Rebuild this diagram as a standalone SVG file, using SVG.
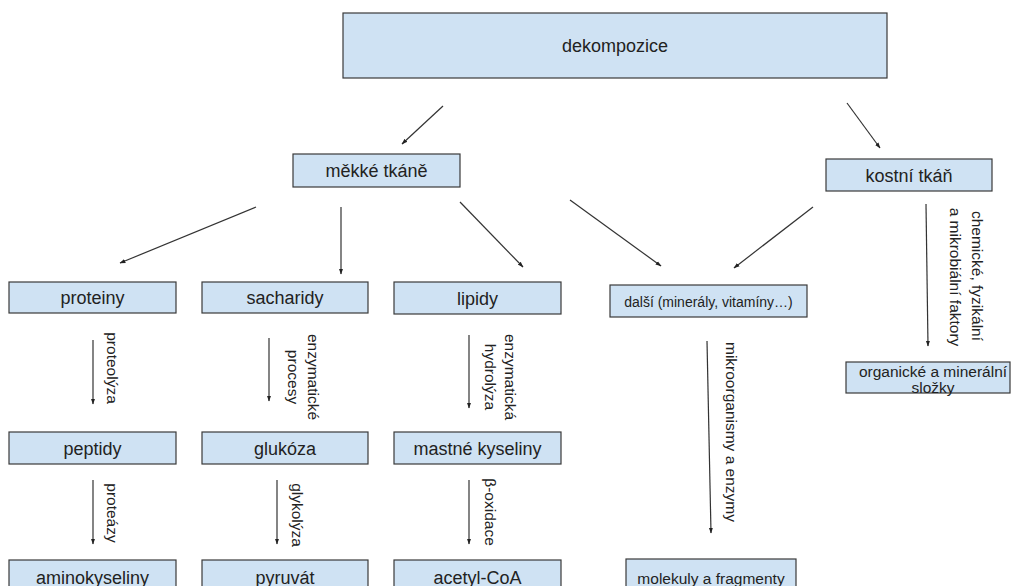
<svg xmlns="http://www.w3.org/2000/svg" width="1012" height="586" viewBox="0 0 1012 586">
<defs>
<style>
.box{fill:#cfe2f3;stroke:#3a3a3a;stroke-width:1.2}
.t{font-family:"Liberation Sans",Arial,sans-serif;font-size:18px;fill:#222;text-anchor:middle;dominant-baseline:central}
.lbl{font-family:"Liberation Sans",Arial,sans-serif;font-size:15.5px;fill:#222;text-anchor:middle;dominant-baseline:central}
.c{stroke:#333;stroke-width:1.2;fill:none;marker-end:url(#ah)}
</style>
<marker id="ah" viewBox="0 0 10 10" refX="9" refY="5" markerWidth="6" markerHeight="6" orient="auto" markerUnits="userSpaceOnUse">
<path d="M0,1.5 L10,5 L0,8.5 z" fill="#222"/>
</marker>
</defs>
<rect width="1012" height="586" fill="#fff"/>
<g id="connectors">
<line class="c" x1="443" y1="106" x2="402" y2="144"/>
<line class="c" x1="847" y1="103" x2="880" y2="148"/>
<line class="c" x1="256" y1="207" x2="120" y2="263"/>
<line class="c" x1="341" y1="207" x2="341" y2="274"/>
<line class="c" x1="460" y1="202" x2="523" y2="267"/>
<line class="c" x1="570" y1="200" x2="661" y2="266"/>
<line class="c" x1="813" y1="207" x2="734" y2="268"/>
<line class="c" x1="93" y1="340" x2="93" y2="404"/>
<line class="c" x1="269" y1="338" x2="269" y2="401"/>
<line class="c" x1="469" y1="335" x2="469" y2="408"/>
<line class="c" x1="93" y1="480" x2="93" y2="544"/>
<line class="c" x1="277" y1="480" x2="277" y2="544"/>
<line class="c" x1="469" y1="480" x2="469" y2="544"/>
<line class="c" x1="707" y1="341" x2="711" y2="533"/>
<line class="c" x1="926" y1="204" x2="928" y2="346"/>
<text class="lbl" transform="translate(112,368) rotate(90)">proteolýza</text>
<text class="lbl" transform="translate(313,377) rotate(90)">enzymatické</text>
<text class="lbl" transform="translate(293,377) rotate(90)">procesy</text>
<text class="lbl" transform="translate(510,377) rotate(90)">enzymatická</text>
<text class="lbl" transform="translate(490,377) rotate(90)">hydrolýza</text>
<text class="lbl" transform="translate(112,513) rotate(90)">proteázy</text>
<text class="lbl" transform="translate(297,515) rotate(90)">glykolýza</text>
<text class="lbl" transform="translate(490,512) rotate(90)">β-oxidace</text>
<text class="lbl" transform="translate(731,432) rotate(90)">mikroorganismy a enzymy</text>
<text class="lbl" transform="translate(977,276) rotate(90)">chemické, fyzikální</text>
<text class="lbl" transform="translate(955,277) rotate(90)">a mikrobiální faktory</text>
</g>
<g id="dekompozice"><rect class="box" x="343" y="13" width="544" height="65"/><text class="t" x="615" y="46">dekompozice</text></g>
<g id="mekke"><rect class="box" x="293" y="154" width="167" height="33"/><text class="t" x="376.5" y="171">měkké tkáně</text></g>
<g id="kostni"><rect class="box" x="826" y="159" width="166" height="32"/><text class="t" x="909" y="175.5">kostní tkáň</text></g>
<g id="proteiny"><rect class="box" x="9" y="282" width="167" height="31"/><text class="t" x="92.5" y="298">proteiny</text></g>
<g id="sacharidy"><rect class="box" x="202" y="282" width="166" height="31"/><text class="t" x="285" y="298">sacharidy</text></g>
<g id="lipidy"><rect class="box" x="394" y="282" width="167" height="32"/><text class="t" x="477.5" y="298.5">lipidy</text></g>
<g id="dalsi"><rect class="box" x="610" y="285" width="197" height="32"/><text class="t" x="708.5" y="301.5" style="font-size:14px">další (minerály, vitamíny…)</text></g>
<g id="organicke"><rect class="box" x="846" y="362" width="164" height="31"/><text class="t" x="933" y="371" style="font-size:15.5px">organické a minerální</text><text class="t" x="933" y="387.5" style="font-size:15.5px">složky</text></g>
<g id="peptidy"><rect class="box" x="9" y="432" width="167" height="32"/><text class="t" x="92.5" y="449">peptidy</text></g>
<g id="glukoza"><rect class="box" x="202" y="432" width="166" height="32"/><text class="t" x="285" y="449">glukóza</text></g>
<g id="mastne"><rect class="box" x="394" y="432" width="167" height="32"/><text class="t" x="477.5" y="449">mastné kyseliny</text></g>
<g id="aminokyseliny"><rect class="box" x="9" y="560" width="167" height="36"/><text class="t" x="92.5" y="578">aminokyseliny</text></g>
<g id="pyruvat"><rect class="box" x="202" y="560" width="166" height="36"/><text class="t" x="285" y="578">pyruvát</text></g>
<g id="acetyl"><rect class="box" x="394" y="560" width="167" height="36"/><text class="t" x="477.5" y="578">acetyl-CoA</text></g>
<g id="molekuly"><rect class="box" x="626" y="559" width="170" height="37"/><text class="t" x="711" y="578" style="font-size:15.5px">molekuly a fragmenty</text></g>
</svg>
